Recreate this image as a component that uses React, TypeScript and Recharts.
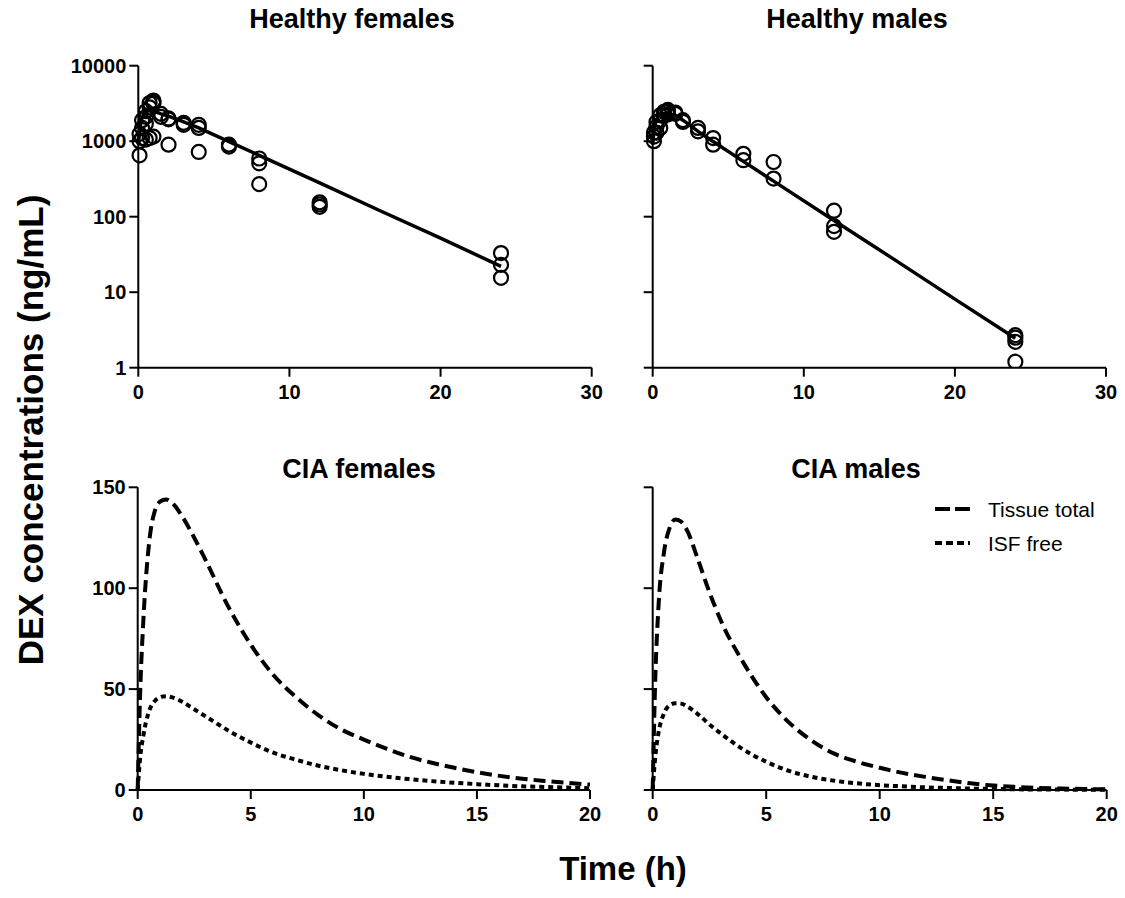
import { ComposedChart, LineChart, Line, Scatter, XAxis, YAxis, Legend } from 'recharts'

const FONT = '"Liberation Sans", Arial, Helvetica, sans-serif'

// healthy animals, observed plasma concentrations (ng/mL)
const femaleObsTime = [
  0.083, 0.083, 0.083, 0.25, 0.25, 0.25, 0.5, 0.5, 0.5, 0.5, 0.75, 0.75, 0.75,
  1, 1, 1, 1, 1.5, 1.5, 2, 2, 2, 3, 3, 4, 4, 4, 6, 6, 8, 8, 8, 12, 12, 12, 24, 24, 24,
]
const femaleObsConc = [
  650, 1000, 1250, 1100, 1500, 1900, 1700, 2100, 2500, 1050, 2800, 3200, 1100,
  3450, 3300, 3150, 1150, 2300, 2100, 2000, 1950, 900, 1750, 1650, 1650, 1500, 720,
  900, 850, 590, 510, 270, 155, 145, 135, 33, 23, 15.5,
]
const maleObsTime = [
  0.083, 0.083, 0.083, 0.25, 0.25, 0.25, 0.5, 0.5, 0.5, 0.75, 0.75, 1, 1, 1,
  1.5, 1.5, 2, 2, 3, 3, 4, 4, 6, 6, 8, 8, 12, 12, 12, 24, 24, 24, 24,
]
const maleObsConc = [
  1000, 1150, 1300, 1300, 1550, 1800, 1500, 1900, 2200, 2200, 2450, 2600, 2450, 2250,
  2400, 2300, 1900, 1800, 1500, 1350, 1100, 900, 680, 560, 530, 320, 120, 75, 63,
  2.7, 2.5, 2.2, 1.2,
]

// model fits
const fitTime = [0, 0.1, 0.25, 0.5, 0.75, 1, 1.5, 2, 3, 4, 6, 8, 12, 16, 20, 24]
const femaleFit = [900, 1500, 2050, 2450, 2550, 2500, 2300, 2150, 1800, 1500, 985, 650, 280, 120, 52, 22]
const maleFit = [900, 1500, 1950, 2250, 2350, 2350, 2200, 1900, 1350, 990, 540, 296, 89, 27, 8.1, 2.45]

// CIA animals, simulated tissue profiles
const ciaTime = [
  0, 0.1, 0.25, 0.5, 0.75, 1, 1.25, 1.5, 2, 2.5, 3,
  4, 5, 6, 7, 8, 9, 10, 11, 12, 13, 14, 15, 16, 17, 18, 19, 20,
]
const femaleTissue = [
  0, 45, 84, 122, 138, 143, 144, 142.5, 135, 125, 114,
  91, 72, 57, 46, 37, 30, 25, 20.5, 16.5, 13.5, 11, 8.8, 7, 5.6, 4.5, 3.5, 2.7,
]
const femaleIsf = [
  0, 15, 27, 39, 44, 46, 46.5, 46, 43.5, 40, 36.5,
  29.5, 23.5, 18.5, 15, 12, 9.8, 8, 6.6, 5.4, 4.4, 3.6, 2.9, 2.3, 1.8, 1.5, 1.2, 0.9,
]
const maleTissue = [
  0, 50, 90, 118, 130, 134, 133, 129, 114, 98, 84,
  63, 46, 33.5, 24.5, 18, 14, 11, 8.5, 6.5, 4.8, 3.3, 2.2, 1.5, 1.0, 0.7, 0.5, 0.3,
]
const maleIsf = [
  0, 15, 28, 38, 42, 43, 42.8, 41.5, 37.5, 32.5, 28,
  20, 14, 9.5, 6.5, 4.6, 3.3, 2.4, 1.8, 1.3, 1.0, 0.7, 0.5, 0.35, 0.25, 0.2, 0.15, 0.1,
]

const logTicks = [1, 10, 100, 1000, 10000]
const pkTimeTicks = [0, 10, 20, 30]
const linTicks = [0, 50, 100, 150]
const ciaTimeTicks = [0, 5, 10, 15, 20]

const legendItems = [
  { name: 'Tissue total', dash: '12 6' },
  { name: 'ISF free', dash: '5 4' },
]

const zip = (ts: number[], cs: number[]) => ts.map((t, i) => ({ t, c: cs[i] }))

const tickStyle = { fill: '#000', fontSize: 20, fontWeight: 'bold', fontFamily: FONT }
const axisLine = { stroke: '#000', strokeWidth: 2 }
const tickLine = { stroke: '#000', strokeWidth: 2 }
const noLabel = () => ''

const OpenCircle = (p: any) => (
  <circle cx={p.cx} cy={p.cy} r={7} fill="none" stroke="#000" strokeWidth={2.2} />
)

function PkPanel({ left, width, marginLeft, marginRight, obs, fit, labels }: any) {
  return (
    <div style={{ position: 'absolute', left, top: 0 }}>
      <ComposedChart
        width={width}
        height={420}
        margin={{ top: 65.7, left: marginLeft, right: marginRight, bottom: 12.3 }}
      >
        <XAxis
          dataKey="t"
          type="number"
          domain={[0, 30]}
          ticks={pkTimeTicks}
          height={40}
          tickSize={9}
          tickMargin={8}
          axisLine={axisLine}
          tickLine={tickLine}
          tick={tickStyle}
        />
        <YAxis
          type="number"
          scale="log"
          domain={[1, 10000]}
          allowDataOverflow
          ticks={logTicks}
          width={80}
          tickSize={9}
          tickMargin={3}
          axisLine={axisLine}
          tickLine={tickLine}
          tick={tickStyle}
          tickFormatter={labels ? undefined : noLabel}
        />
        <Line
          data={fit}
          dataKey="c"
          type="linear"
          stroke="#000"
          strokeWidth={3.5}
          dot={false}
          isAnimationActive={false}
        />
        <Scatter data={obs} dataKey="c" shape={OpenCircle} isAnimationActive={false} />
      </ComposedChart>
    </div>
  )
}

function CiaPanel({ left, width, marginLeft, marginRight, data, labels, legend }: any) {
  return (
    <div style={{ position: 'absolute', left, top: 430 }}>
      <LineChart
        width={width}
        height={430}
        data={data}
        margin={{ top: 57.3, left: marginLeft, right: marginRight, bottom: 30 }}
      >
        <XAxis
          dataKey="t"
          type="number"
          domain={[0, 20]}
          ticks={ciaTimeTicks}
          height={40}
          tickSize={9}
          tickMargin={8}
          axisLine={axisLine}
          tickLine={tickLine}
          tick={tickStyle}
        />
        <YAxis
          type="number"
          domain={[0, 150]}
          ticks={linTicks}
          width={80}
          tickSize={9}
          tickMargin={3}
          axisLine={axisLine}
          tickLine={tickLine}
          tick={tickStyle}
          tickFormatter={labels ? undefined : noLabel}
        />
        <Line
          dataKey="tissue"
          name="Tissue total"
          type="monotone"
          stroke="#000"
          strokeWidth={4}
          strokeDasharray={legendItems[0].dash}
          dot={false}
          isAnimationActive={false}
        />
        <Line
          dataKey="isf"
          name="ISF free"
          type="monotone"
          stroke="#000"
          strokeWidth={4}
          strokeDasharray={legendItems[1].dash}
          dot={false}
          isAnimationActive={false}
        />
        {legend && (
          <Legend
            layout="vertical"
            align="center"
            verticalAlign="middle"
            wrapperStyle={{ left: 375, top: 65, width: 190 }}
            content={() => (
              <svg width={190} height={64}>
                {legendItems.map((it, i) => (
                  <g key={it.name}>
                    <line
                      x1={0}
                      x2={35}
                      y1={14 + i * 34}
                      y2={14 + i * 34}
                      stroke="#000"
                      strokeWidth={4}
                      strokeDasharray={i === 0 ? '15 5' : '7 4'}
                    />
                    <text x={53} y={21.5 + i * 34} fontSize={21} fontFamily={FONT} fill="#000">
                      {it.name}
                    </text>
                  </g>
                ))}
              </svg>
            )}
          />
        )}
      </LineChart>
    </div>
  )
}

const ciaRows = (tissue: number[], isf: number[]) =>
  ciaTime.map((t, i) => ({ t, tissue: tissue[i], isf: isf[i] }))

export default function App() {
  const titleStyle = { fontSize: 27, fontWeight: 'bold', fontFamily: FONT, fill: '#000' }
  return (
    <div style={{ position: 'absolute', left: 0, top: 0, width: 1125, height: 898, background: '#fff' }}>
      <PkPanel
        left={0}
        width={620}
        marginLeft={58.3}
        marginRight={28.3}
        obs={zip(femaleObsTime, femaleObsConc)}
        fit={zip(fitTime, femaleFit)}
        labels
      />
      <PkPanel
        left={560}
        width={565}
        marginLeft={12.7}
        marginRight={19}
        obs={zip(maleObsTime, maleObsConc)}
        fit={zip(fitTime, maleFit)}
        labels={false}
      />
      <CiaPanel
        left={0}
        width={620}
        marginLeft={57.7}
        marginRight={30}
        data={ciaRows(femaleTissue, femaleIsf)}
        labels
      />
      <CiaPanel
        left={560}
        width={565}
        marginLeft={12.7}
        marginRight={18.3}
        data={ciaRows(maleTissue, maleIsf)}
        labels={false}
        legend
      />
      <svg
        width={1125}
        height={898}
        style={{ position: 'absolute', left: 0, top: 0, pointerEvents: 'none' }}
      >
        <text x={352} y={28} textAnchor="middle" style={titleStyle}>Healthy females</text>
        <text x={857} y={28} textAnchor="middle" style={titleStyle}>Healthy males</text>
        <text x={359} y={478} textAnchor="middle" style={titleStyle}>CIA females</text>
        <text x={856} y={478} textAnchor="middle" style={titleStyle}>CIA males</text>
        <text
          x={43}
          y={430}
          transform="rotate(-90 43 430)"
          textAnchor="middle"
          style={{ fontSize: 35, fontWeight: 'bold', fontFamily: FONT, fill: '#000' }}
        >
          DEX concentrations (ng/mL)
        </text>
        <text
          x={623}
          y={880}
          textAnchor="middle"
          style={{ fontSize: 33, fontWeight: 'bold', fontFamily: FONT, fill: '#000' }}
        >
          Time (h)
        </text>
      </svg>
    </div>
  )
}
